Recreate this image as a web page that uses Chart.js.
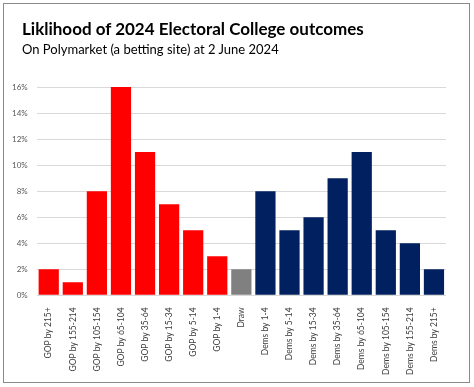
<!DOCTYPE html>
<html>
<head>
<meta charset="utf-8">
<script src="https://cdn.jsdelivr.net/npm/chart.js@4/dist/chart.umd.min.js"></script>
<style>
  html, body { margin: 0; padding: 0; background: #fff; }
  #wrap { position: relative; width: 474px; height: 387px; }
  #frame { position: absolute; left: 3px; top: 3px; width: 465px; height: 378px; border: 1px solid #8a8a8a; pointer-events: none; }
  canvas { position: absolute; left: 0; top: 0; }
  .title { position: absolute; left: 22px; top: 18px; font: bold 17px Lato, 'Open Sans', sans-serif; color: #000; white-space: nowrap; }
  .subtitle { position: absolute; left: 22px; top: 41px; font: 13px Lato, 'Open Sans', sans-serif; color: #000; white-space: nowrap; }
</style>
</head>
<body>
<div id="wrap">
  <canvas id="chart" width="474" height="387"></canvas>
  <div class="title" id="title"></div>
  <div class="subtitle" id="subtitle"></div>
  <div id="frame"></div>
</div>
<script>
// Categories (electoral college margin buckets)
const categories = [
  'GOP by 215+', 'GOP by 155-214', 'GOP by 105-154', 'GOP by 65-104',
  'GOP by 35-64', 'GOP by 15-34', 'GOP by 5-14', 'GOP by 1-4',
  'Draw',
  'Dems by 1-4', 'Dems by 5-14', 'Dems by 15-34', 'Dems by 35-64',
  'Dems by 65-104', 'Dems by 105-154', 'Dems by 155-214', 'Dems by 215+'
];

// Likelihood in percent
const likelihood = [2, 1, 8, 16, 11, 7, 5, 3, 2, 8, 5, 6, 9, 11, 5, 4, 2];

// Y axis ticks
const yTicks = [0, 2, 4, 6, 8, 10, 12, 14, 16];

const titleText = 'Liklihood of 2024 Electoral College outcomes';
const subtitleText = 'On Polymarket (a betting site) at 2 June 2024';

document.getElementById('title').textContent = titleText;
document.getElementById('subtitle').textContent = subtitleText;

// colour for each bar: red for GOP, grey for draw, navy for Dems
const barColors = categories.map(c => {
  if (c.startsWith('GOP')) return '#ff0000';
  if (c === 'Draw') return '#808080';
  return '#002060';
});

const font = "Lato, 'Open Sans', sans-serif";

new Chart(document.getElementById('chart'), {
  type: 'bar',
  data: {
    labels: categories,
    datasets: [{
      data: likelihood,
      backgroundColor: barColors,
      borderWidth: 0,
      barPercentage: 0.84,
      categoryPercentage: 1.0
    }]
  },
  options: {
    responsive: false,
    animation: false,
    layout: { padding: { left: 3, right: 28, top: 87, bottom: 8 } },
    plugins: {
      legend: { display: false },
      tooltip: { enabled: false }
    },
    scales: {
      x: {
        grid: { display: false },
        border: { display: false },
        ticks: {
          color: '#404040',
          font: { family: font, size: 8.5 },
          minRotation: 90,
          maxRotation: 90,
          autoSkip: false,
          padding: 4
        }
      },
      y: {
        min: 0,
        max: 16,
        afterBuildTicks: axis => { axis.ticks = yTicks.map(v => ({ value: v })); },
        grid: { color: '#d9d9d9', lineWidth: 1, drawTicks: false },
        border: { display: false },
        ticks: {
          color: '#595959',
          font: { family: font, size: 8 },
          padding: 9,
          callback: v => v + '%'
        }
      }
    }
  }
});
</script>
</body>
</html>
